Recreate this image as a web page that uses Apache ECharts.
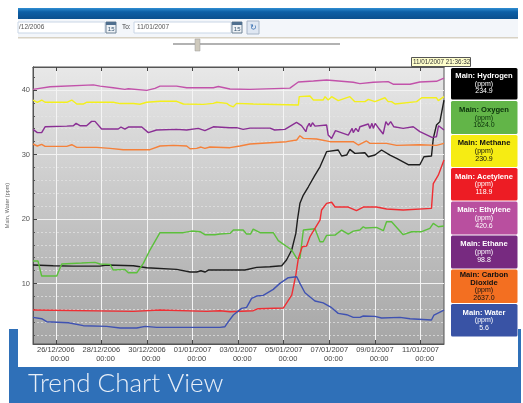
<!DOCTYPE html>
<html><head><meta charset="utf-8">
<style>html,body{margin:0;padding:0;background:#fff}#c{width:523px;height:403px}</style>
<script src="https://cdn.jsdelivr.net/npm/echarts@6/dist/echarts.min.js"></script>
</head><body><div id="c"></div>
<script>
// x = days since 25/12/2006 00:00, y = reading on the chart scale
const hydrogen=[[0,12.86],[.89,12.76],[1.77,12.7],[2.94,12.7],[3.23,12.86],[4.4,12.76],[4.99,12.45],[6.3,12.19],[6.89,11.78],[7.18,11.78],[7.37,11.98],[7.54,11.78],[7.69,12.09],[8.64,12.09],[9.3,12.09],[9.81,12.5],[10.39,12.6],[10.91,12.76],[11.12,13.64],[11.35,15.19],[11.53,17.77],[11.6,19.84],[11.71,22.43],[11.86,23.72],[12.08,25],[12.37,26.8],[12.59,28.1],[12.88,30.44],[13.39,30.7],[13.54,29.77],[13.76,29.92],[13.9,30.8],[14.12,30.18],[14.56,30.28],[14.71,29.66],[15,29.92],[15.29,30.7],[15.66,29.92],[15.95,29.4],[16.46,28.42],[16.97,28.42],[17.15,29.66],[17.48,29.76],[17.56,32.5],[17.7,34.57],[17.85,35.1],[18.03,38.45]];
const oxygen=[[0,13.48],[.22,13.48],[.38,11.16],[1.04,11.16],[1.26,13.02],[2.13,13.17],[2.72,13.28],[2.94,13.02],[3.38,12.97],[3.52,12.09],[4.03,12.19],[4.18,11.67],[4.55,11.67],[4.84,13.12],[5.13,15.19],[5.57,17.88],[6.59,17.88],[6.96,18.13],[7.33,18.03],[7.54,17.57],[7.98,17.57],[8.06,17.72],[8.2,17.67],[8.64,17.77],[8.79,18.29],[9.22,18.29],[9.37,17.67],[9.54,17.67],[9.66,18.44],[9.96,17.88],[10.54,17.88],[10.76,16.64],[11.35,15.19],[11.57,13.9],[11.71,13.9],[11.86,18.29],[12.37,18.5],[12.59,16.48],[12.73,16.48],[12.88,17.46],[13.25,17.51],[13.54,18.29],[13.83,17.67],[14.05,18.13],[14.34,18.29],[14.49,18.8],[14.59,18.6],[15.07,18.7],[15.37,18.19],[15.51,19.58],[15.73,19.58],[16.24,17.57],[16.61,18.03],[17.05,18.03],[17.41,18.55],[17.56,19.32],[17.78,18.8],[18.03,18.91]];
const methane=[[0,38.45],[.19,38.1],[.38,38.45],[.53,38.1],[1.48,38.1],[1.7,38.45],[1.92,37.83],[2.2,37.83],[2.35,38.1],[3.52,38.1],[3.82,37.9],[4.4,37.9],[4.69,37.8],[4.99,38.1],[5.57,38.25],[6.3,38.25],[6.6,37.83],[7.47,37.78],[7.91,37.93],[8.06,38.1],[8.5,37.93],[8.64,37.57],[8.79,37.4],[8.93,37.93],[9.67,37.83],[11.64,37.67],[11.68,38.97],[12.15,39.07],[12.3,38.45],[12.73,38.45],[12.81,38.97],[12.95,38.45],[13.1,38.97],[13.39,38.35],[13.9,38.97],[14.12,38.2],[14.56,38.2],[14.71,38.55],[15,38.2],[15.44,38.8],[15.58,38.2],[15.73,38.2],[15.88,37.83],[16.83,38.2],[17.05,38.8],[17.7,38.8],[17.78,38.35],[18.03,38.97]];
const acetylene=[[0,5.89],[4.4,5.68],[5.57,5.89],[7.62,5.68],[8.2,5.78],[8.64,5.63],[9.66,5.78],[9.88,6.09],[10.98,6.2],[11.35,8.2],[11.53,11.3],[11.64,13.9],[11.81,15.7],[12,15.8],[12.15,17.25],[12.37,18.55],[12.44,18.8],[12.59,19.84],[12.66,21.4],[12.88,22.43],[13.1,22.6],[13.25,21.86],[13.83,21.86],[14.19,21.29],[14.49,21.86],[15.07,21.86],[15.51,21.55],[16.24,21.4],[17.48,21.65],[17.56,25.5],[17.78,26.8],[18.03,29.15]];
const ethylene=[[0,40.1],[.75,40.5],[2.65,40.8],[2.94,40.6],[3.52,40.35],[4.03,40.1],[4.18,40.2],[4.99,39.95],[5.35,40.25],[5.57,40.6],[6.3,40.6],[6.74,40.35],[7.91,40.35],[8.13,40.55],[8.64,40.15],[9.52,40.1],[11.27,40.3],[11.64,41.25],[12.3,41.4],[12.88,41.55],[14.05,41.2],[14.34,41],[14.93,41.2],[15.58,41.3],[15.8,40.9],[16.54,40.9],[16.97,41.25],[17.7,41.35],[18.03,41.85]];
const ethane=[[0,33.9],[.19,33.4],[.38,33.4],[.53,34.3],[1.48,34.4],[1.77,34.45],[1.89,34.83],[2.06,34.47],[2.35,34.47],[2.57,35.14],[2.72,35.14],[3.01,33.95],[3.74,33.95],[3.86,34.26],[4.03,33.95],[4.18,34.26],[4.77,34.26],[5.06,33.4],[5.42,33.8],[6.3,33.9],[6.74,33.8],[7.25,34.05],[7.54,33.7],[7.91,34.3],[8.64,34.16],[8.93,34.16],[9.22,33.9],[9.52,34.1],[10.4,34.1],[10.6,33.8],[11.05,33.9],[11.56,34.98],[11.78,34.47],[11.97,33.54],[12.03,34.3],[12.12,34.83],[12.18,34.3],[12.26,34.93],[12.37,34.4],[12.88,34.57],[12.95,33.02],[13.1,32.5],[13.27,33.7],[13.83,33],[14,34.05],[14.05,33.4],[14.16,34.05],[14.27,33.54],[14.34,34.3],[14.71,34.73],[14.78,34.05],[14.87,34.83],[14.93,34.05],[15.01,34.83],[15.19,33.95],[15.36,33.18],[15.48,35.09],[15.58,34.57],[15.69,35.09],[15.83,34.3],[16.24,34.05],[16.68,34.3],[16.97,33.54],[17.5,32.66],[17.7,32.76],[17.79,34.47],[18.03,33.8]];
const carbonDioxide=[[0,31.63],[.19,31.32],[.38,31.58],[.53,31.27],[1.48,31.27],[1.7,31.52],[1.92,31.11],[2.79,31.11],[3.38,30.95],[3.96,30.75],[5.13,30.75],[5.57,31.32],[6.16,31.42],[6.74,31.32],[6.89,30.9],[7.18,30.95],[7.37,31.16],[7.54,30.95],[7.76,31.16],[8.64,31.06],[9.08,31.32],[9.52,31.63],[11.12,31.99],[11.57,32.25],[11.71,32.92],[11.86,32.5],[12.44,32.4],[13.03,31.99],[14.05,31.99],[14.27,31.47],[14.63,32.1],[14.78,31.73],[15.51,31.73],[15.95,31.42],[16.97,31.52],[17.7,31.42],[18.03,31.73]];
const water=[[0,4.75],[.38,4.54],[.6,4.08],[1.55,3.92],[2.21,3.46],[3.23,3.35],[3.82,3.1],[4.55,3.1],[4.92,3.35],[5.43,3.2],[8.2,3.2],[8.42,3.3],[8.57,4.08],[8.79,5.11],[9.15,6.14],[9.37,6.3],[9.59,7.7],[9.81,8.06],[10.1,8.16],[10.54,9.09],[10.83,10.02],[11.2,10.9],[11.57,11.05],[11.71,10.02],[11.93,8.57],[12.37,7.28],[12.73,7],[13.1,6.25],[13.39,5.37],[13.76,5.16],[14.05,4.75],[14.34,4.75],[14.49,4.96],[15,4.9],[15.29,4.65],[16.1,4.75],[16.54,4.54],[17.48,4.34],[17.59,5.11],[18.03,5.89]];

const legendNames=['Main: Hydrogen','Main: Oxygen','Main: Methane','Main: Acetylene','Main: Ethylene','Main: Ethane','Main: Carbon\nDioxide','Main: Water'];
const legendValues=['234.9','1624.0','230.9','118.9','420.6','98.8','2637.0','5.6'];
const seriesData=[hydrogen,oxygen,methane,acetylene,ethylene,ethane,carbonDioxide,water];
const lineColors=['#1e1e1e','#5cc03c','#f3ef1c','#ef2e33','#c252aa','#8a2f94','#f5813a','#3f52b2'];
const boxColors=['#000000','#62b548','#f6ec13','#ed1c24','#b94f9f','#772a80','#f36f21','#3953a5'];
const boxTextColors=['#fff','#0a300a','#111','#fff','#fff','#fff','#111','#fff'];
const boxTops=[68,101,135,168,201.5,235.5,269.5,304];
const boxHeights=[31.5,33,32,32.5,33,33,33.5,32.5];
const xTickLabels=['26/12/2006','28/12/2006','30/12/2006','01/01/2007','03/01/2007','05/01/2007','07/01/2007','09/01/2007','11/01/2007'];
const xTickDays=[1,3,5,7,9,11,13,15,17];
const yLabelTicks=[10,20,30,40];
const yMinorTicks=[2,4,6,8,12,14,16,18,22,24,26,28,32,34,36,38,42];
const timestamp='11/01/2007 21:36:32';

const xMin=0, xMax=18.03, yMin=0.62, yMax=43.57;
const font='"Liberation Sans",Arial,sans-serif';
const labelByDay={}; xTickDays.forEach((m,i)=>labelByDay[m]=xTickLabels[i]);

const g=[];
const rect=(x,y,w,h,fill,extra)=>g.push(Object.assign({type:'rect',silent:true,z:-5,shape:{x,y,width:w,height:h},style:{fill}},extra||{}));
const text=(x,y,t,size,fill,extra,styleExtra)=>g.push(Object.assign({type:'text',silent:true,z:-4,x,y,style:Object.assign({text:t,fontSize:size,fill,fontFamily:font},styleExtra||{})},extra||{}));
rect(9,329,512,74,'#2f70b8');
rect(18,19,500,348,'#ffffff');
rect(18,8,500,11,new echarts.graphic.LinearGradient(0,0,0,1,[{offset:0,color:'#2f8ed2'},{offset:.35,color:'#0d5fa6'},{offset:1,color:'#0a4f8e'}]));
rect(18,19,500,18,'#f3f6fa');
rect(18,37,500,1.5,'#d8d2c4');
const input=(x,w)=>rect(x,22,w,11,'#fff',{style:{fill:'#fff',stroke:'#c9d6e6',lineWidth:1}});
input(18,87); input(134,97);
text(19,24,'/12/2006',6.5,'#555');
text(122,24,'To:',6.5,'#444');
text(137,24,'11/01/2007',6.5,'#555');
const cal=x=>{rect(x,22,10,11,'#eef2f6',{style:{fill:'#eef2f6',stroke:'#6f8295',lineWidth:1}});rect(x,22,10,3,'#4f6f8f');text(x+1.8,26.5,'15',6,'#35536f');};
cal(106); cal(232);
rect(247,21,12,13,'#dfe7f2',{style:{fill:'#dfe7f2',stroke:'#a8b6c8',lineWidth:1}});
text(250,24,'\u21BB',8,'#3a70b0');
rect(173,43.5,167,1,'#666');
rect(195,39,5,12,'#cfcabd',{style:{fill:'#cfcabd',stroke:'#999',lineWidth:.5}});
rect(411.5,57.5,59,9,'#ffffcc',{z:5,style:{fill:'#ffffcc',stroke:'#555',lineWidth:1}});
text(413,59,timestamp,6.3,'#333',{z:6});
legendNames.forEach((n,i)=>{
  const c=boxTextColors[i];
  g.push({type:'rect',silent:true,z:-3,shape:{x:451,y:boxTops[i],width:66.5,height:boxHeights[i],r:1.5},style:{fill:boxColors[i]}});
  const lines=n.split('\n').map(s=>'{b|'+s+'}').join('\n');
  g.push({type:'text',silent:true,z:-2,x:484,y:boxTops[i]+boxHeights[i]/2,style:{
    text:lines+'\n{n|(ppm)}\n{n|'+legendValues[i]+'}',align:'center',verticalAlign:'middle',fill:c,fontFamily:font,
    rich:{b:{fontSize:7.6,fontWeight:'bold',lineHeight:8,fill:c,fontFamily:font,align:'center'},n:{fontSize:7,lineHeight:7.6,fill:c,fontFamily:font,align:'center'}}
  }});
});
text(28,371,'Trend Chart View',26,'#e8eff8',{},{fontFamily:'Lato,"Open Sans",sans-serif',fontWeight:300});

const names=['Hydrogen','Oxygen','Methane','Acetylene','Ethylene','Ethane','Carbon Dioxide','Water'];
const chart=echarts.init(document.getElementById('c'),null,{renderer:'canvas'});
const yBase={type:'value',min:yMin,max:yMax,position:'left',
  axisLine:{show:true,lineStyle:{color:'#555',width:1}}};
chart.setOption({
  animation:false,backgroundColor:'#fff',
  grid:{left:33,right:79,top:67,bottom:59,show:true,borderColor:'#555',borderWidth:1,outerBoundsMode:'none',
    backgroundColor:new echarts.graphic.LinearGradient(0,0,0,1,[{offset:0,color:'#e8e8e8'},{offset:1,color:'#a6a6a6'}])},
  xAxis:[{type:'value',min:xMin,max:xMax,position:'bottom',
      axisLine:{lineStyle:{color:'#555'}},
      axisTick:{show:true,inside:true,length:4,customValues:xTickDays,lineStyle:{color:'#444'}},
      axisLabel:{customValues:xTickDays,fontSize:7.5,color:'#444',fontFamily:font,margin:1,lineHeight:9,hideOverlap:false,
        formatter:v=>(labelByDay[v]||'')+'\n    00:00'},
      splitLine:{show:true,lineStyle:{color:'#f4f4f4',width:1}}},
    {type:'value',min:xMin,max:xMax,position:'top',
      axisLine:{lineStyle:{color:'#555'}},
      axisTick:{show:true,inside:true,length:4,customValues:xTickDays,lineStyle:{color:'#444'}},
      axisLabel:{show:false},splitLine:{show:false}}],
  yAxis:[Object.assign({},yBase,{name:'Main, Water (ppm)',nameLocation:'middle',nameGap:13,nameTextStyle:{fontSize:5.5,color:'#666',fontFamily:font},
      axisTick:{show:true,inside:true,length:4,customValues:yLabelTicks,lineStyle:{color:'#444'}},
      axisLabel:{customValues:yLabelTicks,fontSize:7.5,color:'#555',fontFamily:font,margin:3},
      splitLine:{show:true,lineStyle:{color:'#f2f2f2',width:1}}}),
    Object.assign({},yBase,{
      axisTick:{show:true,inside:true,length:2,customValues:yMinorTicks,lineStyle:{color:'#555'}},
      axisLabel:{show:false},
      splitLine:{show:true,lineStyle:{color:'#e6e6e6',width:.7,type:[2,2]}}})],
  series:seriesData.map((d,i)=>({type:'line',name:names[i],data:d,showSymbol:false,
    lineStyle:{color:lineColors[i],width:1.4},itemStyle:{color:lineColors[i]},z:3+i})),
  graphic:g
});
</script></body></html>
